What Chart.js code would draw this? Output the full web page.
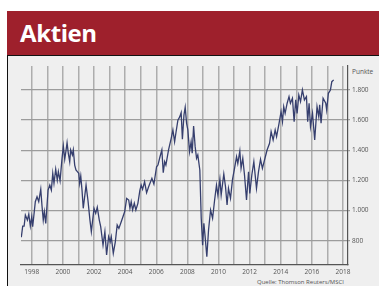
<!DOCTYPE html>
<html>
<head>
<meta charset="utf-8">
<script src="https://cdn.jsdelivr.net/npm/chart.js@4"></script>
<style>
    body { margin: 0; width: 379px; height: 286px; background: #fff; overflow: hidden; position: relative; font-family: "Open Sans", sans-serif; }
    #head { position: absolute; left: 7px; top: 11px; width: 372px; height: 44px; background: #9e202c; }
    #head span { position: absolute; left: 13px; top: 5px; color: #fff; font-weight: bold; font-size: 24px; letter-spacing: -0.4px; }
    #panel { position: absolute; left: 7px; top: 55px; width: 372px; height: 231px; background: #efefef; border-left: 1px solid #111; border-top: 1px solid #111; box-sizing: border-box; }
    #unit { position: absolute; left: 352px; top: 67px; font-size: 6.5px; color: #555; }
    #src { position: absolute; right: 35px; top: 278px; font-size: 6px; color: #555; }
    canvas { position: absolute; left: 0; top: 0; }
</style>
</head>
<body>
<div id="head"><span>Aktien</span></div>
<div id="panel"></div>
<div id="unit">Punkte</div>
<div id="src">Quelle: Thomson Reuters/MSCI</div>
<canvas id="aktien-chart" width="379" height="286"></canvas>
<script>
    // MSCI World, Punkte
    var dates = [
        1997.33, 1997.42, 1997.51, 1997.59, 1997.72, 1997.81, 1997.91, 1998.00, 1998.06, 1998.23,
        1998.34, 1998.45, 1998.58, 1998.66, 1998.74, 1998.81, 1998.90, 1999.05, 1999.16, 1999.26,
        1999.35, 1999.43, 1999.54, 1999.64, 1999.71, 1999.82, 1999.94, 2000.03, 2000.12, 2000.20,
        2000.27, 2000.35, 2000.44, 2000.50, 2000.61, 2000.67, 2000.76, 2000.84, 2000.93, 2001.02,
        2001.08, 2001.15, 2001.23, 2001.31, 2001.49, 2001.61, 2001.74, 2001.83, 2002.00, 2002.11,
        2002.21, 2002.34, 2002.43, 2002.58, 2002.70, 2002.81, 2002.94, 2003.04, 2003.11, 2003.24,
        2003.37, 2003.49, 2003.60, 2003.75, 2003.97, 2004.10, 2004.23, 2004.31, 2004.39, 2004.48,
        2004.59, 2004.69, 2004.82, 2004.95, 2005.03, 2005.12, 2005.25, 2005.38, 2005.51, 2005.72,
        2005.85, 2006.02, 2006.11, 2006.24, 2006.36, 2006.45, 2006.54, 2006.62, 2006.79, 2006.96,
        2007.07, 2007.18, 2007.26, 2007.39, 2007.50, 2007.60, 2007.68, 2007.78, 2007.86, 2007.95,
        2008.03, 2008.14, 2008.24, 2008.31, 2008.40, 2008.50, 2008.59, 2008.67, 2008.80, 2008.89,
        2008.98, 2009.06, 2009.14, 2009.25, 2009.36, 2009.49, 2009.62, 2009.75, 2009.87, 2009.96,
        2010.09, 2010.17, 2010.34, 2010.45, 2010.55, 2010.64, 2010.77, 2010.90, 2011.03, 2011.16,
        2011.24, 2011.37, 2011.45, 2011.56, 2011.67, 2011.80, 2011.93, 2012.01, 2012.14, 2012.27,
        2012.44, 2012.57, 2012.70, 2012.82, 2013.12, 2013.28, 2013.38, 2013.51, 2013.64, 2013.73,
        2013.89, 2014.02, 2014.11, 2014.19, 2014.28, 2014.41, 2014.53, 2014.62, 2014.75, 2014.86,
        2014.96, 2015.05, 2015.16, 2015.27, 2015.39, 2015.52, 2015.65, 2015.73, 2015.82, 2015.91,
        2016.04, 2016.18, 2016.33, 2016.44, 2016.50, 2016.59, 2016.72, 2016.89, 2016.95, 2017.06,
        2017.19, 2017.28, 2017.40
    ];
    var punkte = [
        823, 897, 897, 970, 937, 977, 897, 959, 893, 1059,
        1092, 1059, 1141, 1030, 937, 992, 915, 1136, 1169, 1136,
        1247, 1181, 1274, 1203, 1258, 1198, 1340, 1428, 1340, 1397,
        1450, 1380, 1324, 1402, 1369, 1402, 1302, 1269, 1258, 1247,
        1181, 1229, 1136, 1015, 1169, 1070, 937, 860, 1015, 982,
        1022, 937, 893, 771, 860, 705, 827, 793, 827, 716,
        793, 904, 882, 926, 992, 1081, 1070, 1015, 1059, 1004,
        1048, 1004, 1048, 1136, 1169, 1141, 1191, 1119, 1158, 1214,
        1176, 1291, 1302, 1357, 1402, 1251, 1324, 1302, 1402, 1479,
        1535, 1457, 1513, 1600, 1620, 1650, 1473, 1634, 1685, 1579,
        1535, 1391, 1457, 1380, 1561, 1424, 1347, 1369, 1269, 949,
        771, 915, 827, 694, 871, 1004, 949, 1070, 1169, 1103,
        1207, 1103, 1243, 1158, 1037, 1147, 1081, 1207, 1280, 1357,
        1313, 1395, 1280, 1347, 1236, 1070, 1258, 1114, 1236, 1324,
        1147, 1258, 1340, 1280, 1402, 1446, 1524, 1468, 1535, 1490,
        1579, 1656, 1590, 1689, 1645, 1712, 1756, 1712, 1745, 1590,
        1734, 1645, 1767, 1723, 1800, 1734, 1756, 1590, 1712, 1557,
        1645, 1468, 1689, 1623, 1701, 1579, 1745, 1712, 1667, 1778,
        1800, 1855, 1867
    ];
    var yearTicks = [1998, 1999, 2000, 2001, 2002, 2003, 2004, 2005, 2006, 2007, 2008,
        2009, 2010, 2011, 2012, 2013, 2014, 2015, 2016, 2017, 2018];
    var punkteTicks = [800, 1000, 1200, 1400, 1600, 1800];

    var points = dates.map(function (d, i) { return { x: d, y: punkte[i] }; });

    var ctx = document.getElementById("aktien-chart").getContext("2d");
    new Chart(ctx, {
        type: 'line',
        data: {
            datasets: [{
                data: points,
                borderColor: '#363f6e',
                borderWidth: 1.3,
                pointRadius: 0,
                tension: 0,
                fill: false
            }]
        },
        options: {
            responsive: false,
            animation: false,
            events: [],
            layout: {
                padding: { left: 21, top: 66, right: 0, bottom: 0 }
            },
            plugins: {
                legend: { display: false },
                tooltip: { enabled: false }
            },
            scales: {
                x: {
                    type: 'linear',
                    min: 1997.31,
                    max: 2018.32,
                    afterBuildTicks: function (scale) {
                        scale.ticks = yearTicks.map(function (v) { return { value: v }; });
                    },
                    afterFit: function (scale) { scale.height = 21; },
                    grid: {
                        color: '#adadad',
                        lineWidth: 1.5,
                        drawTicks: false
                    },
                    border: { display: true, color: '#555', width: 1.2 },
                    ticks: {
                        autoSkip: false,
                        maxRotation: 0,
                        padding: 3,
                        color: '#555',
                        font: { family: 'Open Sans', size: 6.5 },
                        callback: function (value) {
                            return value % 2 === 0 ? String(value) : '';
                        }
                    }
                },
                y: {
                    type: 'linear',
                    position: 'right',
                    min: 639,
                    max: 1959,
                    afterBuildTicks: function (scale) {
                        scale.ticks = punkteTicks.map(function (v) { return { value: v }; });
                    },
                    afterFit: function (scale) { scale.width = 31; },
                    grid: {
                        color: '#9c9c9c',
                        lineWidth: 1.3,
                        tickLength: 2
                    },
                    border: { display: true, color: '#555', width: 1.2 },
                    ticks: {
                        padding: 2,
                        color: '#555',
                        font: { family: 'Open Sans', size: 6.5 },
                        callback: function (value) {
                            return value.toLocaleString('de-DE');
                        }
                    }
                }
            }
        }
    });
</script>
</body>
</html>
